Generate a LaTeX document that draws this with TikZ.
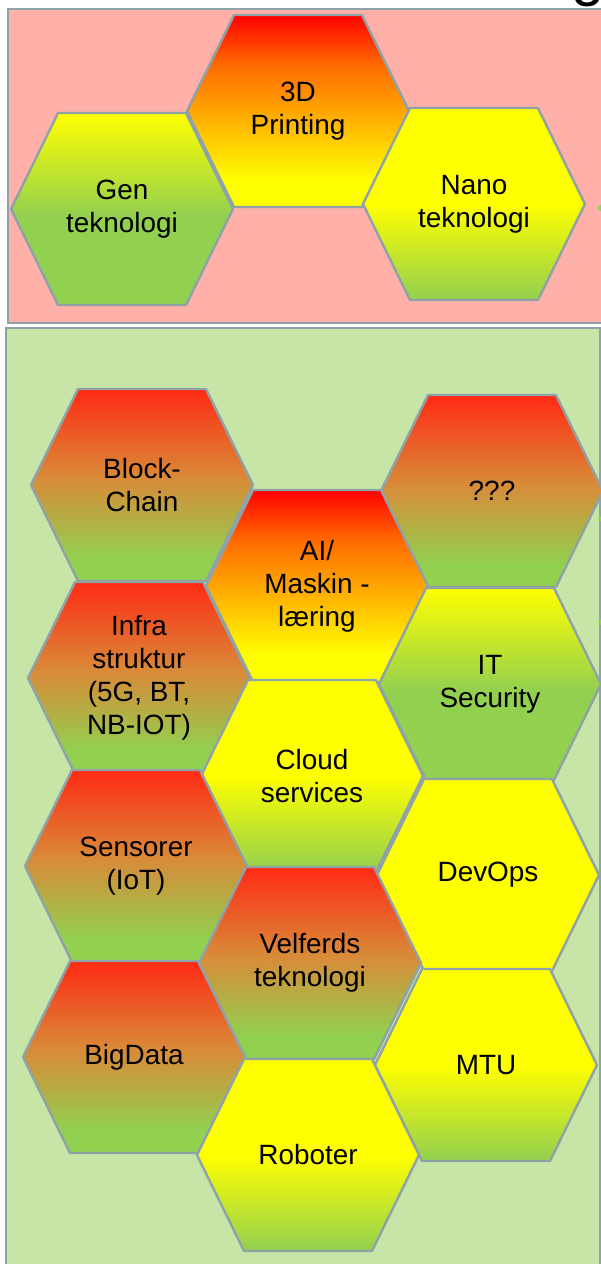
\documentclass[tikz,border=0pt]{standalone}
\usepackage{fontspec}
\setmainfont{Liberation Sans}
\usepackage{tikz}
\usetikzlibrary{calc}
\definecolor{pinkbg}{HTML}{FFB0A8}
\definecolor{greenbg}{HTML}{C6E5A6}
\definecolor{frame}{HTML}{8EA2A8}
\definecolor{leaf}{HTML}{92D050}
\definecolor{sun}{HTML}{FFFF00}
\definecolor{fire}{HTML}{FF2A14}
\definecolor{amber}{HTML}{D98A38}
\definecolor{flame}{HTML}{FF0000}
\definecolor{tangerine}{HTML}{FFB000}
\definecolor{ember}{HTML}{FF6A00}
\pgfdeclareverticalshading{redgreen}{100bp}{color(0bp)=(leaf); color(31bp)=(leaf); color(52bp)=(amber); color(75bp)=(fire); color(100bp)=(fire)}
\pgfdeclareverticalshading{redyellow}{100bp}{color(0bp)=(sun); color(32bp)=(sun); color(48bp)=(tangerine); color(62bp)=(ember); color(75bp)=(flame); color(100bp)=(flame)}
\pgfdeclareverticalshading{yellowtop}{100bp}{color(0bp)=(leaf); color(48bp)=(leaf); color(75bp)=(sun); color(100bp)=(sun)}
\pgfdeclareverticalshading{yellowbot}{100bp}{color(0bp)=(leaf); color(25bp)=(leaf); color(50bp)=(sun); color(100bp)=(sun)}
\pgfdeclareverticalshading{plainsun}{100bp}{color(0bp)=(sun); color(100bp)=(sun)}
\tikzset{
  panel/.style={draw=frame, line width=2bp},
  hexa/.style={draw=frame, line width=2.4bp, line join=round},
  hexlab/.style={align=center, text=black, inner sep=0pt, font=\fontsize{28}{33}\selectfont},
  tip/.style={fill=leaf, draw=none},
}
% hexagon cell: name, centre, shading, text
\newcommand{\hexcell}[4]{%
  \shadedraw[hexa, shading=#3] ($(#2)+(-111,0)$) -- ++(47,-96) -- ++(128,0) -- ++(47,96) -- ++(-47,96) -- ++(-128,0) -- cycle;
  \node[hexlab] (#1) at (#2) {#4};
}
\begin{document}
\begin{tikzpicture}[x=1bp, y=-1bp]
\useasboundingbox (0,0) rectangle (601,1264);
\fill[white] (0,0) rectangle (601,1264);
\node[anchor=south west, inner sep=0pt, font=\fontsize{60}{60}\selectfont] (title) at (571,7) {g};
% panels
\draw[panel, fill=pinkbg] (8,9) rectangle (612,323);
\draw[panel, fill=greenbg] (6,328) rectangle (600,1280);
\fill[tip] (597,208) -- (606,200) -- (606,216) -- cycle;
\fill[tip] (598,519) -- (606,512) -- (606,526) -- cycle;
\fill[tip] (598,622) -- (606,614) -- (606,630) -- cycle;
% upper group
\hexcell{gen}{122,209}{yellowtop}{Gen\\teknologi}
\hexcell{print}{298,111}{redyellow}{3D\\Printing}
\hexcell{nano}{474,204}{yellowbot}{Nano\\teknologi}
% lower group
\hexcell{block}{142,485}{redgreen}{Block-\\Chain}
\hexcell{quest}{492,491}{redgreen}{???}
\hexcell{ai}{317,586}{redyellow}{AI/\\Maskin -\\læring}
\hexcell{infra}{139,678}{redgreen}{Infra\\struktur\\(5G, BT,\\NB-IOT)}
\hexcell{itsec}{490,684}{yellowtop}{IT\\Security}
\hexcell{cloud}{312,776}{yellowbot}{Cloud\\services}
\hexcell{sensor}{136,866}{redgreen}{Sensorer\\(IoT)}
\hexcell{devops}{488,875}{plainsun}{DevOps}
\hexcell{velferd}{310,963}{redgreen}{Velferds\\teknologi}
\hexcell{bigdata}{134,1057}{redgreen}{BigData}
\hexcell{mtu}{486,1065}{yellowbot}{MTU}
\hexcell{robot}{308,1155}{yellowbot}{Roboter}
\end{tikzpicture}
\end{document}
